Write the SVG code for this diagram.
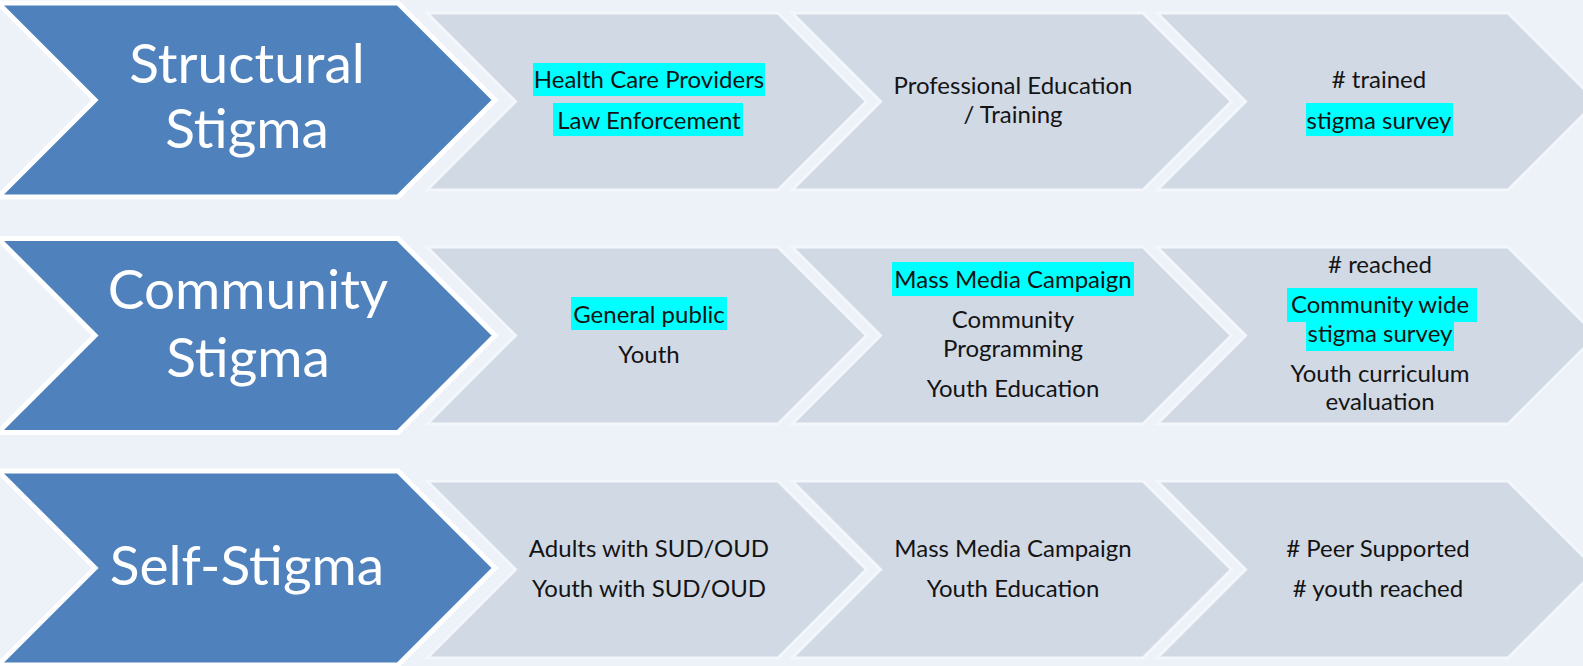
<svg xmlns="http://www.w3.org/2000/svg" xmlns:xlink="http://www.w3.org/1999/xlink" width="1583" height="666" viewBox="0 0 1583 666">
  <defs>
    <!-- stage chevron (grey) and row header chevron (blue), origin at top-left corner -->
    <polygon id="gch" points="0,0 351,0 439.5,88.5 351,177 0,177 88.5,88.5"/>
    <polygon id="bch" points="0,0 400,0 497,97 400,194 0,194 97,97"/>
    <style>
      .bg { fill: #edf2f9; }
      .stage { fill: #d1d9e5; stroke: #f3f6fb; stroke-width: 3; stroke-linejoin: miter; }
      .head { fill: #4f81bd; stroke: #ffffff; stroke-width: 5; stroke-linejoin: miter; }
      .title { font-family: Lato, "Liberation Sans", sans-serif; font-size: 55px; fill: #ffffff; text-anchor: middle; }
      .txt { font-family: Lato, "Liberation Sans", sans-serif; font-size: 24px; fill: #141414; text-anchor: middle; }
      .hl { fill: #00ffff; }
    </style>
  </defs>

  <rect class="bg" x="0" y="0" width="1583" height="666"/>

  <!-- Row 1: Structural Stigma -->
  <g id="row1-col1">
    <use href="#gch" class="stage" x="427" y="13"/>
    <rect class="hl" x="533" y="63" width="232" height="33"/>
    <rect class="hl" x="553" y="103" width="190" height="33"/>
    <text class="txt" x="649" y="88">Health Care Providers</text>
    <text class="txt" x="649" y="129">Law Enforcement</text>
  </g>
  <g id="row1-col2">
    <use href="#gch" class="stage" x="792" y="13"/>
    <text class="txt" x="1013" y="94">Professional Education</text>
    <text class="txt" x="1013" y="123">/ Training</text>
  </g>
  <g id="row1-col3">
    <use href="#gch" class="stage" x="1157" y="13"/>
    <rect class="hl" x="1306" y="103" width="147" height="33"/>
    <text class="txt" x="1379" y="88"># trained</text>
    <text class="txt" x="1379" y="129">stigma survey</text>
  </g>
  <g id="row1-head">
    <use href="#bch" class="head" x="-2" y="3"/>
    <text class="title" x="247" y="83">Structural</text>
    <text class="title" x="247" y="148">Stigma</text>
  </g>

  <!-- Row 2: Community Stigma -->
  <g id="row2-col1">
    <use href="#gch" class="stage" x="427" y="247"/>
    <rect class="hl" x="571" y="297" width="156" height="33"/>
    <text class="txt" x="649" y="323">General public</text>
    <text class="txt" x="649" y="363">Youth</text>
  </g>
  <g id="row2-col2">
    <use href="#gch" class="stage" x="792" y="247"/>
    <rect class="hl" x="892" y="262" width="242" height="34"/>
    <text class="txt" x="1013" y="288">Mass Media Campaign</text>
    <text class="txt" x="1013" y="328">Community</text>
    <text class="txt" x="1013" y="357">Programming</text>
    <text class="txt" x="1013" y="397">Youth Education</text>
  </g>
  <g id="row2-col3">
    <use href="#gch" class="stage" x="1157" y="247"/>
    <rect class="hl" x="1287" y="288" width="190" height="34"/>
    <rect class="hl" x="1306" y="322" width="148" height="29"/>
    <text class="txt" x="1380" y="273"># reached</text>
    <text class="txt" x="1380" y="313">Community wide</text>
    <text class="txt" x="1380" y="342">stigma survey</text>
    <text class="txt" x="1380" y="382">Youth curriculum</text>
    <text class="txt" x="1380" y="410">evaluation</text>
  </g>
  <g id="row2-head">
    <use href="#bch" class="head" x="-2" y="238.5"/>
    <text class="title" x="248" y="309">Community</text>
    <text class="title" x="248" y="377">Stigma</text>
  </g>

  <!-- Row 3: Self-Stigma -->
  <g id="row3-col1">
    <use href="#gch" class="stage" x="427" y="481"/>
    <text class="txt" x="649" y="557">Adults with SUD/OUD</text>
    <text class="txt" x="649" y="597">Youth with SUD/OUD</text>
  </g>
  <g id="row3-col2">
    <use href="#gch" class="stage" x="792" y="481"/>
    <text class="txt" x="1013" y="557">Mass Media Campaign</text>
    <text class="txt" x="1013" y="597">Youth Education</text>
  </g>
  <g id="row3-col3">
    <use href="#gch" class="stage" x="1157" y="481"/>
    <text class="txt" x="1378" y="557"># Peer Supported</text>
    <text class="txt" x="1378" y="597"># youth reached</text>
  </g>
  <g id="row3-head">
    <use href="#bch" class="head" x="-2" y="471"/>
    <text class="title" x="247" y="585">Self-Stigma</text>
  </g>
</svg>
